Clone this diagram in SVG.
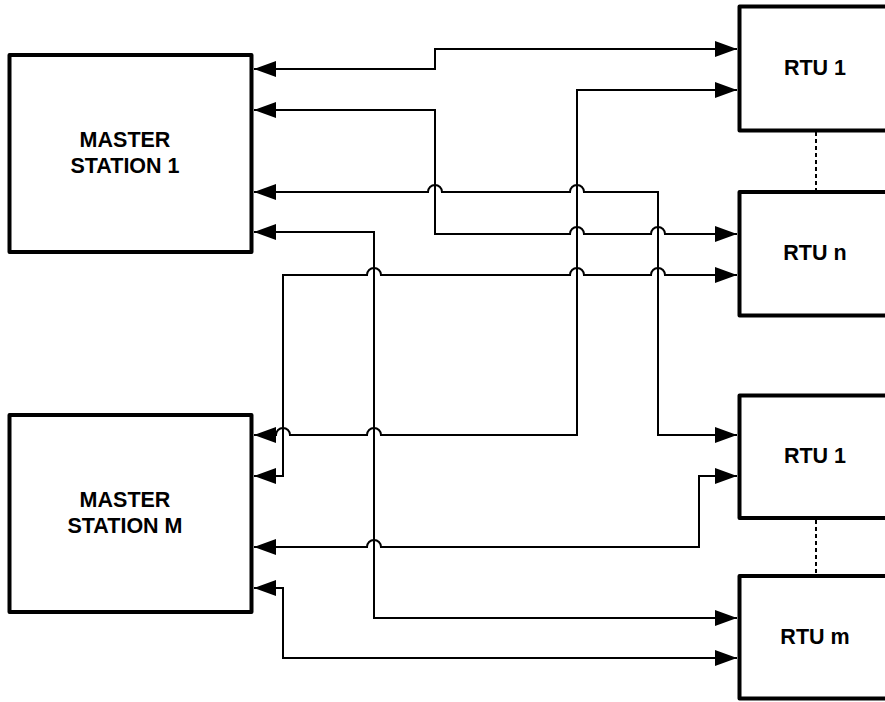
<svg xmlns="http://www.w3.org/2000/svg" width="885" height="702" viewBox="0 0 885 702">
  <style>
    .box { fill: #ffffff; stroke: #000000; stroke-width: 4; stroke-linejoin: round; }
    .lbl { font-family: "Liberation Sans", Arial, sans-serif; font-weight: bold; font-size: 21.5px; fill: #000000; text-anchor: middle; }
    .conn { fill: none; stroke: #000000; stroke-width: 2; marker-start: url(#arr); marker-end: url(#arr); }
    .dot { fill: none; stroke: #000000; stroke-width: 2; stroke-dasharray: 4 3; }
  </style>
  <defs>
    <marker id="arr" viewBox="0 0 22 16" refX="22" refY="8" markerWidth="22" markerHeight="16" markerUnits="userSpaceOnUse" orient="auto-start-reverse">
      <path d="M0,0 L22,8 L0,16 z" fill="#000000"/>
    </marker>
  </defs>
  <rect width="885" height="702" fill="#ffffff"/>

  <g id="connectors">
    <path class="conn" d="M254 69 H435 V49 H737"/>
    <path class="conn" d="M254 110 H435 V234 H570 a7 7 0 0 1 14 0 H651 a7 7 0 0 1 14 0 H737"/>
    <path class="conn" d="M254 192 H428 a7 7 0 0 1 14 0 H570 a7 7 0 0 1 14 0 H658 V435 H737"/>
    <path class="conn" d="M254 232 H374 V618 H737"/>
    <path class="conn" d="M737 90 H577 V435 H381 a7 7 0 0 0 -14 0 H290 a7 7 0 0 0 -14 0 H254"/>
    <path class="conn" d="M737 275 H665 a7 7 0 0 0 -14 0 H584 a7 7 0 0 0 -14 0 H381 a7 7 0 0 0 -14 0 H283 V476 H254"/>
    <path class="conn" d="M737 476 H699 V547 H381 a7 7 0 0 0 -14 0 H254"/>
    <path class="conn" d="M737 658 H283 V588 H254"/>
    <path class="dot" d="M816 132 V190"/>
    <path class="dot" d="M816 520 V574"/>
  </g>

  <g id="master1">
    <rect class="box" x="9.5" y="55" width="242" height="197"/>
    <text class="lbl" x="125" y="147">MASTER</text>
    <text class="lbl" x="125" y="173">STATION 1</text>
  </g>
  <g id="masterM">
    <rect class="box" x="9.5" y="415" width="242" height="197"/>
    <text class="lbl" x="125" y="507">MASTER</text>
    <text class="lbl" x="125" y="533">STATION M</text>
  </g>
  <g id="rtu1a">
    <rect class="box" x="739.5" y="6.5" width="170" height="124"/>
    <text class="lbl" x="815" y="75">RTU 1</text>
  </g>
  <g id="rtun">
    <rect class="box" x="739.5" y="192" width="170" height="123.5"/>
    <text class="lbl" x="815" y="260">RTU n</text>
  </g>
  <g id="rtu1b">
    <rect class="box" x="739.5" y="395.5" width="170" height="122.5"/>
    <text class="lbl" x="815" y="463">RTU 1</text>
  </g>
  <g id="rtum">
    <rect class="box" x="739.5" y="576" width="170" height="122.5"/>
    <text class="lbl" x="815" y="644">RTU m</text>
  </g>
</svg>
